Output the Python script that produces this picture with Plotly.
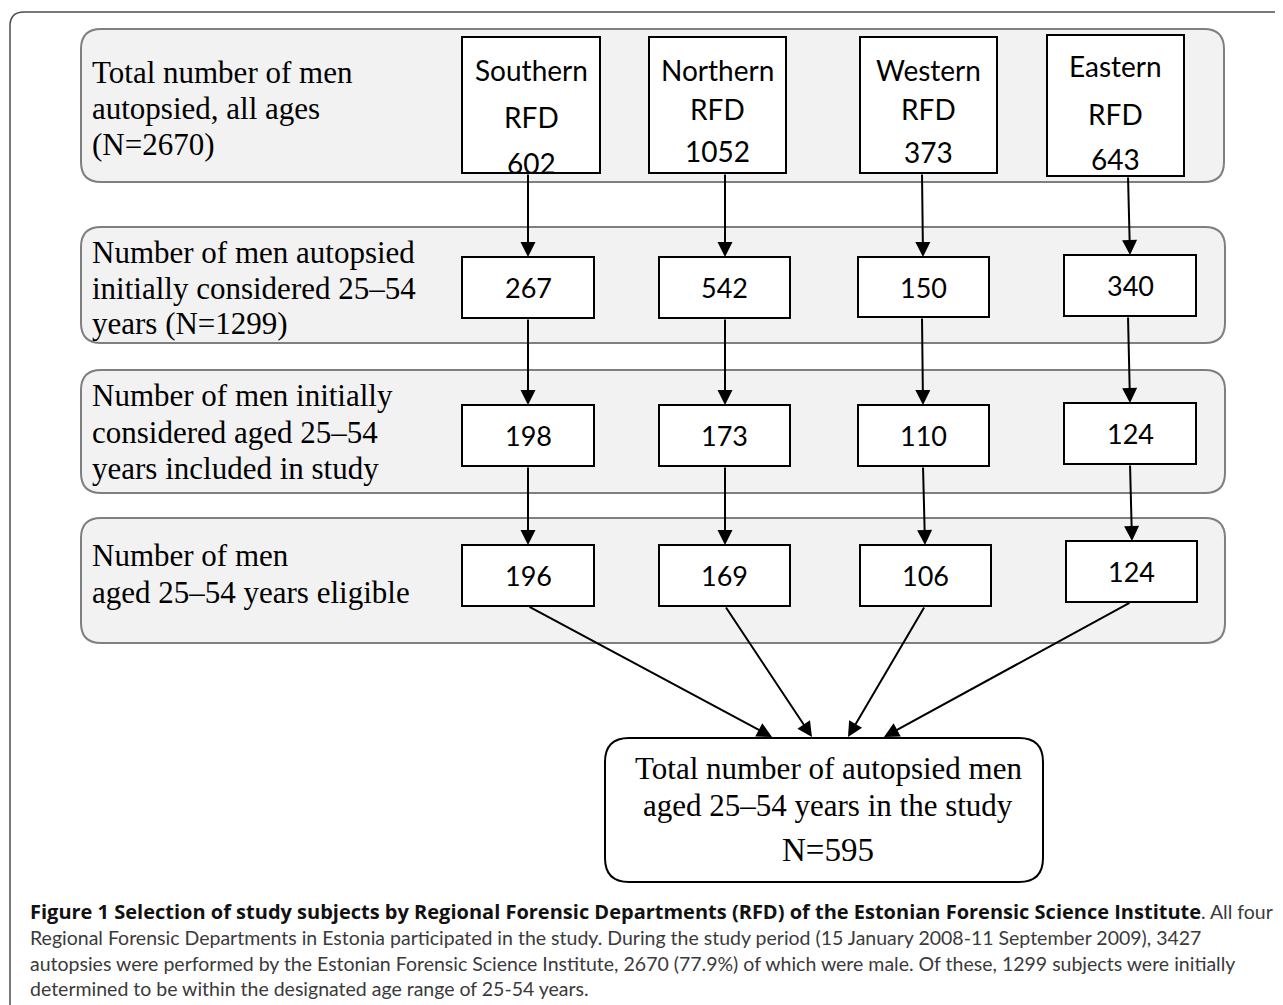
import plotly.graph_objects as go

# ---------------- data ----------------
regions = ["Southern", "Northern", "Western", "Eastern"]
all_ages = [602, 1052, 373, 643]
initial_25_54 = [267, 542, 150, 340]
included = [198, 173, 110, 124]
eligible = [196, 169, 106, 124]
stage_labels = [
    ["Total number of men", "autopsied, all ages", "(N=2670)"],
    ["Number of men autopsied", "initially considered 25\u201354", "years (N=1299)"],
    ["Number of men initially", "considered aged 25\u201354", "years included in study"],
    ["Number of men", "aged 25\u201354 years eligible"],
]
final_lines = ["Total number of autopsied men", "aged 25\u201354 years in the study", "N=595"]
caption_bold = ("Figure 1 Selection of study subjects by Regional Forensic Departments (RFD) "
                "of the Estonian Forensic Science Institute")
caption_lines = [
    ". All four",
    "Regional Forensic Departments in Estonia participated in the study. During the study period (15 January 2008-11 September 2009), 3427",
    "autopsies were performed by the Estonian Forensic Science Institute, 2670 (77.9%) of which were male. Of these, 1299 subjects were initially",
    "determined to be within the designated age range of 25-54 years.",
]

# ---------------- layout constants ----------------
W, H = 1283, 1005
OFF = 8  # default page margin of the html body
SERIF = "Liberation Serif, Times New Roman, serif"
SANS = "Lato, Calibri, sans-serif"
CAP = "Lato, Myriad Pro, sans-serif"
CAPB = "Open Sans, Myriad Pro, sans-serif"

panels = [(81, 29, 1224, 182), (81, 227, 1225, 343), (81, 370, 1225, 493), (81, 518, 1225, 643)]
label_y = [[72, 108, 144], [252, 288, 323], [395, 432, 468], [555, 592]]

top_boxes = [(462, 37, 600, 173), (649, 37, 786, 173), (860, 37, 997, 173), (1047, 35, 1184, 176)]
top_text_y = [[70, 117, 163], [70, 109, 151], [70, 109, 152], [66, 114, 159]]
stage_boxes = [
    [(462, 257, 594, 318), (659, 257, 790, 318), (858, 257, 989, 317), (1064, 255, 1196, 316)],
    [(462, 405, 594, 466), (659, 405, 790, 466), (858, 405, 989, 466), (1064, 403, 1196, 464)],
    [(462, 545, 594, 606), (659, 545, 790, 606), (860, 545, 991, 606), (1066, 541, 1197, 602)],
]
arrow_x = [[528, 725, 922, 1128], [528, 725, 922, 1128], [528, 725, 923, 1130]]
arrow_x_end = [[528, 725, 923, 1130], [528, 725, 923, 1130], [528, 725, 925, 1132]]
conv_start_x = [528, 725, 925, 1131]
final_box = (605, 738, 1043, 882)
final_tips = [(772, 737), (812, 737), (848, 737), (884, 737)]
final_text_y = [768, 805, 850]
cap_x = 28
cap_tail_x = 1199
cap_y = [911, 937, 963, 988]


def rrect(x0, y0, x1, y1, r):
    return (f"M{x0+r},{y0} L{x1-r},{y0} Q{x1},{y0} {x1},{y0+r} L{x1},{y1-r} "
            f"Q{x1},{y1} {x1-r},{y1} L{x0+r},{y1} Q{x0},{y1} {x0},{y1-r} "
            f"L{x0},{y0+r} Q{x0},{y0} {x0+r},{y0} Z")


shapes = []
annotations = []

# outer frame (extends beyond the page on the right and bottom)
shapes.append(dict(type="path", path="M10,1015 L10,26 Q10,12 24,12 L1295,12",
                   line=dict(color="#4d4d4d", width=1.5), xref="x", yref="y"))

# grey panels
for (x0, y0, x1, y1) in panels:
    shapes.append(dict(type="path", path=rrect(x0, y0, x1, y1, 20), fillcolor="#f2f2f2",
                       line=dict(color="#7f7f7f", width=2), xref="x", yref="y", layer="below"))

# panel labels
for lines, ys in zip(stage_labels, label_y):
    for t, yy in zip(lines, ys):
        annotations.append(dict(x=90, y=yy, text=t, showarrow=False, xanchor="left", yanchor="middle",
                                font=dict(family=SERIF, size=31, color="black"), xref="x", yref="y"))

# top boxes
for i, (x0, y0, x1, y1) in enumerate(top_boxes):
    shapes.append(dict(type="rect", x0=x0, y0=y0, x1=x1, y1=y1, fillcolor="white",
                       line=dict(color="black", width=2), xref="x", yref="y"))
    cx = (x0 + x1) / 2
    for t, yy in zip([regions[i], "RFD", str(all_ages[i])], top_text_y[i]):
        annotations.append(dict(x=cx, y=yy, text=t, showarrow=False, xanchor="center", yanchor="middle",
                                font=dict(family=SANS, size=28, color="black"), xref="x", yref="y"))

# stage boxes
for stage_vals, boxes in zip([initial_25_54, included, eligible], stage_boxes):
    for v, (x0, y0, x1, y1) in zip(stage_vals, boxes):
        shapes.append(dict(type="rect", x0=x0, y0=y0, x1=x1, y1=y1, fillcolor="white",
                           line=dict(color="black", width=2), xref="x", yref="y"))
        annotations.append(dict(x=(x0 + x1) / 2, y=(y0 + y1) / 2, text=str(v), showarrow=False,
                                xanchor="center", yanchor="middle",
                                font=dict(family=SANS, size=27, color="black"), xref="x", yref="y"))

# vertical arrows
sources = [top_boxes] + stage_boxes[:-1]
for s in range(3):
    for i in range(4):
        ys = sources[s][i][3]
        ye = stage_boxes[s][i][1]
        annotations.append(dict(x=arrow_x_end[s][i], y=ye, ax=arrow_x[s][i], ay=ys, xref="x", yref="y",
                                axref="x", ayref="y", text="", showarrow=True, arrowhead=2,
                                arrowsize=1.5, arrowwidth=2, arrowcolor="black", standoff=0))

# converging arrows
for i in range(4):
    by1 = stage_boxes[2][i][3]
    tx, ty = final_tips[i]
    annotations.append(dict(x=tx, y=ty, ax=conv_start_x[i], ay=by1, xref="x", yref="y", axref="x",
                            ayref="y", text="", showarrow=True, arrowhead=2, arrowsize=1.5,
                            arrowwidth=2, arrowcolor="black", standoff=0))

# final box
fx0, fy0, fx1, fy1 = final_box
shapes.append(dict(type="path", path=rrect(fx0, fy0, fx1, fy1, 24), fillcolor="white",
                   line=dict(color="black", width=2), xref="x", yref="y"))
for k, (t, yy) in enumerate(zip(final_lines, final_text_y)):
    annotations.append(dict(x=828, y=yy, text=t, showarrow=False, xanchor="center", yanchor="middle",
                            font=dict(family=SERIF, size=33 if k == 2 else 31, color="black"),
                            xref="x", yref="y"))

# caption
annotations.append(dict(x=cap_x, y=cap_y[0], text=f"<b>{caption_bold}</b>", showarrow=False,
                        xanchor="left", yanchor="middle", font=dict(family=CAPB, size=20, color="#111111"),
                        xref="x", yref="y"))
annotations.append(dict(x=cap_tail_x, y=cap_y[0], text=caption_lines[0], showarrow=False,
                        xanchor="left", yanchor="middle", font=dict(family=CAP, size=19.5, color="#3a3a3a"),
                        xref="x", yref="y"))
for t, yy in zip(caption_lines[1:], cap_y[1:]):
    annotations.append(dict(x=cap_x, y=yy, text=t, showarrow=False, xanchor="left", yanchor="middle",
                            font=dict(family=CAP, size=19.5, color="#3a3a3a"), xref="x", yref="y"))

fig = go.Figure()
fig.add_trace(go.Scatter(x=[OFF, W], y=[OFF, H], mode="markers", marker=dict(opacity=0), hoverinfo="skip",
                         showlegend=False))
fig.update_layout(
    width=W - OFF, height=H - OFF, margin=dict(l=0, r=0, t=0, b=0),
    paper_bgcolor="white", plot_bgcolor="white",
    xaxis=dict(range=[OFF, W], visible=False, fixedrange=True),
    yaxis=dict(range=[H, OFF], visible=False, fixedrange=True),
    shapes=shapes, annotations=annotations, showlegend=False,
)
fig.write_html("out.html")
